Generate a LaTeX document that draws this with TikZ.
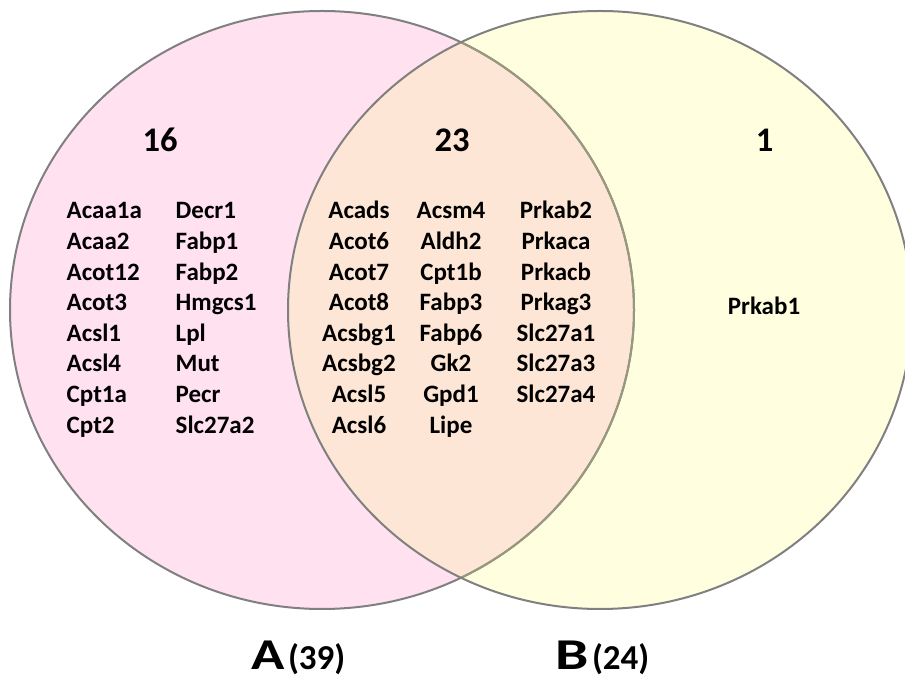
\documentclass[tikz,border=0pt]{standalone}
\usepackage{fontspec}
\setmainfont{Carlito}
\begin{document}
\begin{tikzpicture}[x=1pt,y=1pt,
  gene/.style={inner sep=0pt,font=\fontsize{25}{30}\selectfont\bfseries},
  head/.style={inner sep=0pt,anchor=base,font=\fontsize{34.5}{40}\selectfont\bfseries},
  setlab/.style={inner sep=0pt,anchor=base,font=\fontsize{44}{50}\selectfont\bfseries},
  edge/.style={draw=edgegray,line width=2pt},
  edgeolive/.style={draw=edgeolive,line width=2pt}]
\definecolor{pinkA}{RGB}{255,225,240}
\definecolor{yellowB}{RGB}{255,254,222}
\definecolor{peach}{RGB}{253,230,213}
\definecolor{edgegray}{RGB}{128,128,128}
\definecolor{edgeolive}{RGB}{152,152,126}
\useasboundingbox (0,0) rectangle (905,680);
\fill[white] (0,0) rectangle (905,680);
% set shapes
\fill[pinkA] (322,370) ellipse [x radius=312, y radius=299];
\fill[yellowB] (600,370) ellipse [x radius=312, y radius=299];
\begin{scope}
  \clip (322,370) ellipse [x radius=312, y radius=299];
  \fill[peach] (600,370) ellipse [x radius=312, y radius=299];
\end{scope}
\draw[edge] (322,370) ellipse [x radius=312, y radius=299];
\begin{scope}
  \clip (600,370) ellipse [x radius=312, y radius=299];
  \draw[edgeolive] (322,370) ellipse [x radius=312, y radius=299];
\end{scope}
\draw[edge] (600,370) ellipse [x radius=312, y radius=299];
% counts
\node[head] (nA) at (160,528) {16};
\node[head] (nAB) at (452,528) {23};
\node[head] (nB) at (764.5,528) {1};
% only A
\foreach \t [count=\i from 0] in {Acaa1a,Acaa2,Acot12,Acot3,Acsl1,Acsl4,Cpt1a,Cpt2}
  \node[gene,anchor=base west] (la\i) at (66.5,{461-30.6*\i}) {\t};
\foreach \t [count=\i from 0] in {Decr1,Fabp1,Fabp2,Hmgcs1,Lpl,Mut,Pecr,Slc27a2}
  \node[gene,anchor=base west] (lb\i) at (175.5,{461-30.6*\i}) {\t};
% A and B
\foreach \t [count=\i from 0] in {Acads,Acot6,Acot7,Acot8,Acsbg1,Acsbg2,Acsl5,Acsl6}
  \node[gene,anchor=base] (ma\i) at (359,{461-30.6*\i}) {\t};
\foreach \t [count=\i from 0] in {Acsm4,Aldh2,Cpt1b,Fabp3,Fabp6,Gk2,Gpd1,Lipe}
  \node[gene,anchor=base] (mb\i) at (451,{461-30.6*\i}) {\t};
\foreach \t [count=\i from 0] in {Prkab2,Prkaca,Prkacb,Prkag3,Slc27a1,Slc27a3,Slc27a4}
  \node[gene,anchor=base] (mc\i) at (556,{461-30.6*\i}) {\t};
% only B
\node[gene,anchor=base] (rb0) at (764,365) {Prkab1};
% set labels
\node[setlab] (labA) at (298.5,10) {\scalebox{1.25}[1]{A}\hspace{3pt}{\fontsize{35}{40}\selectfont(39)}};
\node[setlab] (labB) at (602.5,10) {\scalebox{1.35}[1]{B}\hspace{3pt}{\fontsize{35}{40}\selectfont(24)}};
\end{tikzpicture}
\end{document}
